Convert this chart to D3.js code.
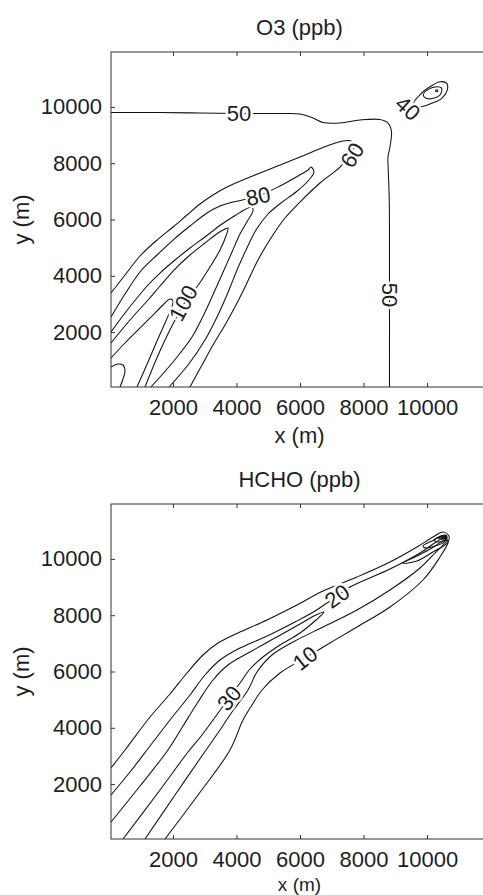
<!DOCTYPE html>
<html>
<head>
<meta charset="utf-8">
<script src="https://cdn.jsdelivr.net/npm/d3@7"></script>
<style>
  body { margin: 0; background: #fff; }
  svg text { font-family: "Liberation Sans", Arial, sans-serif; fill: #1e1e1e; }
</style>
</head>
<body>
<svg id="chart" width="483" height="895"></svg>
<script>
/* grid extent (cell centres, m) and axis ticks */
var gridExtent = [50, 11950];
var xTicks = [2000, 4000, 6000, 8000, 10000];
var yTicks = [2000, 4000, 6000, 8000, 10000];

/* O3 contour lines, [x, y] in metres */
var o3Level50 = [[50,9800],[1593,9800],[2852,9782],[4079,9765],[5370,9765],[6000,9747],[6409,9605],[6724,9445],
  [7259,9427],[7888,9534],[8518,9552],[8770,9427],[8880,9125],[8833,8586],[8770,8220],[8779,7758],[8811,6586],
  [8817,3744],[8817,50]];
var o3Level60 = [[50,3389],[491,4028],[963,4703],[1498,5271],[2002,5733],[2442,6159],[2852,6550],[3261,6870],
  [3702,7154],[4426,7509],[5213,7864],[6000,8220],[6850,8610],[7354,8788],[7605,8788],[7700,8646],[7574,8290],
  [7259,7864],[6629,7296],[6000,6621],[5528,6053],[5087,5342],[4678,4561],[4300,3673],[3985,2963],[3639,2252],
  [3261,1542],[2915,831],[2537,50]];
var o3Level80 = [[50,2536],[491,3353],[963,4135],[1498,4739],[2002,5271],[2537,5769],[3072,6230],[3481,6479],
  [3891,6621],[4678,6834],[5370,7190],[5937,7545],[6252,7758],[6346,7864],[6440,7687],[6252,7367],[5874,6976],
  [5402,6586],[4993,6195],[4615,5627],[4300,4916],[4016,4206],[3765,3495],[3418,2607],[3009,1719],[2474,831],
  [1876,50]];
var o3Level90 = [[50,2004],[491,2678],[868,3211],[1215,3673],[1593,4099],[2065,4561],[2537,4987],[3009,5378],
  [3544,5840],[3985,6159],[4300,6373],[4489,6444],[4520,6302],[4363,5982],[4111,5485],[3859,4845],[3607,4206],
  [3355,3567],[3041,2785],[2600,1826],[2002,938],[1309,50]];
var o3Level100 = [[50,1613],[648,2430],[1215,3140],[1593,3638],[2065,4241],[2537,4739],[3009,5165],[3418,5520],
  [3639,5662],[3733,5698],[3670,5414],[3481,4916],[3166,4312],[2820,3709],[2537,3282],[2317,2963],[2065,2430],
  [1781,1790],[1467,1009],[1120,50]];
var o3Level110 = [[50,1080],[491,1613],[963,2146],[1372,2607],[1687,2963],[1907,3176],[2002,3105],[1939,2821],
  [1750,2323],[1498,1684],[1215,938],[868,50]];
var o3Level120 = [[50,760],[270,867],[428,831],[491,618],[428,334],[333,50]];
var o3Level40 = [[9588,10173],[9714,10351],[9903,10564],[10092,10717],[10407,10894],[10618,10837],[10637,10599],
  [10460,10305],[10145,10127],[9831,10006],[9620,10031]];
var o3Level30 = [[9881,10422],[10039,10624],[10303,10717],[10460,10660],[10407,10422],[10196,10305],[9966,10305]];
var o3Level20 = [[10270,10560],[10320,10545],[10335,10590],[10285,10600]];

/* O3 inline labels: text, x, y (m), angle (deg) */
var o3Labels = [["50",4079,9765,0],["50",8817,3318,90],["40",9400,9960,42],["60",7637,8290,-58],
  ["80",4678,6834,-12],["100",2317,3034,-62]];

/* HCHO contour lines */
var hchoLevel10 = [[50,2572],[491,3211],[1278,4383],[1907,5200],[2442,5946],[2946,6586],[3418,7012],[4048,7367],
  [4961,7829],[5842,8326],[6724,8859],[7794,9356],[8833,9889],[9683,10422],[10186,10777],[10501,10955],
  [10690,10812],[10659,10564],[10407,10066],[9872,9250],[8833,8290],[7794,7580],[6944,7012],[6157,6479],
  [5370,5946],[4804,5342],[4489,4810],[4205,4277],[3796,3211],[2789,1613],[1750,50]];
var hchoLevel20 = [[50,1613],[648,2430],[1278,3353],[1907,4277],[2537,5165],[3009,5875],[3481,6408],[4111,6834],
  [4898,7225],[5842,7758],[6472,8149],[7165,8681],[7573,9001],[8833,9640],[9777,10209],[10281,10599],
  [10596,10777],[10627,10670],[10564,10564],[10281,10244],[9777,9676],[8833,8894],[7794,8184],[6724,7580],
  [5842,7083],[5118,6586],[4646,5982],[4363,5342],[3859,4561],[3481,3922],[3041,3211],[2065,1613],[1120,50]];
var hchoLevel30 = [[50,654],[963,1933],[1844,3211],[2317,4064],[2789,4916],[3261,5698],[3733,6230],[4426,6692],
  [5213,7190],[6000,7687],[6504,8006],[6755,8113],[6504,7829],[6000,7367],[5370,6941],[4835,6515],[4426,6088],
  [4111,5591],[3765,5058],[3355,4419],[2915,3744],[2474,3140],[1593,1790],[428,50]];
var hchoLevel30b = [[9242,9853],[9683,10102],[10155,10386],[10564,10670],[10659,10635],[10596,10528],
  [10186,10244],[9683,9924]];
var hchoLevel40 = [[9872,10457],[10155,10635],[10438,10777],[10596,10741],[10533,10599],[10250,10457],[9966,10386]];
var hchoLevel50 = [[10218,10670],[10470,10812],[10627,10777],[10564,10670],[10344,10599]];
var hchoLevel60 = [[10344,10741],[10533,10848],[10627,10812],[10501,10706]];
var hchoLevel70 = [[10438,10777],[10596,10830],[10596,10741],[10470,10724]];
var hchoLevel80 = [[10470,10790],[10564,10812],[10580,10760],[10500,10745]];

var hchoLabels = [["20",7165,8681,-35],["10",6157,6479,-38],["30",3765,5058,-52]];

var panels = [
  {
    id: "o3", title: "O3 (ppb)", top: 52,
    contours: [
      {level: 50, points: o3Level50}, {level: 60, points: o3Level60}, {level: 80, points: o3Level80},
      {level: 90, points: o3Level90}, {level: 100, points: o3Level100}, {level: 110, points: o3Level110},
      {level: 120, points: o3Level120},
      {level: 40, points: o3Level40, closed: true}, {level: 30, points: o3Level30, closed: true},
      {level: 20, points: o3Level20, closed: true}
    ],
    labels: o3Labels
  },
  {
    id: "hcho", title: "HCHO (ppb)", top: 504,
    contours: [
      {level: 10, points: hchoLevel10}, {level: 20, points: hchoLevel20}, {level: 30, points: hchoLevel30},
      {level: 30, points: hchoLevel30b, closed: true}, {level: 40, points: hchoLevel40, closed: true},
      {level: 50, points: hchoLevel50, closed: true}, {level: 60, points: hchoLevel60, closed: true},
      {level: 70, points: hchoLevel70, closed: true}, {level: 80, points: hchoLevel80, closed: true}
    ],
    labels: hchoLabels
  }
];

var plotLeft = 111;
var plotW = 378;
var plotH = 335;
var fontSize = 22;
var pageH = 895;

var svg = d3.select("#chart");
svg.append("rect").attr("width", 483).attr("height", pageH).attr("fill", "#fff");

function tidyAxis(g) {
  g.select(".domain").remove();
  g.selectAll(".tick line").attr("stroke", "#333");
  g.attr("font-family", null).attr("font-size", fontSize);
  g.selectAll(".tick text").attr("fill", "#1e1e1e");
}

function drawPanel(spec) {
  var x = d3.scaleLinear().domain(gridExtent).range([0, plotW]);
  var y = d3.scaleLinear().domain(gridExtent).range([plotH, 0]);

  var g = svg.append("g").attr("transform", "translate(" + plotLeft + "," + spec.top + ")");

  g.append("clipPath").attr("id", "clip-" + spec.id)
    .append("rect").attr("width", plotW).attr("height", plotH);

  var openLine = d3.line().x(function(d) { return x(d[0]); }).y(function(d) { return y(d[1]); })
    .curve(d3.curveCatmullRom.alpha(0.5));
  var closedLine = d3.line().x(function(d) { return x(d[0]); }).y(function(d) { return y(d[1]); })
    .curve(d3.curveCatmullRomClosed.alpha(0.5));

  var plot = g.append("g").attr("clip-path", "url(#clip-" + spec.id + ")");

  plot.selectAll("path.contour").data(spec.contours).enter().append("path")
    .attr("class", "contour")
    .attr("d", function(d) { return (d.closed ? closedLine : openLine)(d.points); })
    .attr("fill", "none")
    .attr("stroke", "#111")
    .attr("stroke-width", 1.05)
    .attr("stroke-linejoin", "round");

  // inline labels, white halo breaks the line underneath like clabel does
  plot.selectAll("text.clabel").data(spec.labels).enter().append("text")
    .attr("class", "clabel")
    .attr("transform", function(d) { return "translate(" + x(d[1]) + "," + y(d[2]) + ") rotate(" + d[3] + ")"; })
    .attr("text-anchor", "middle")
    .attr("dy", "0.36em")
    .attr("font-size", fontSize)
    .attr("stroke", "#fff")
    .attr("stroke-width", 5)
    .style("paint-order", "stroke")
    .text(function(d) { return d[0]; });

  // axes: ticks point inward on all four sides, labels left and bottom only
  g.append("g").attr("transform", "translate(0," + plotH + ")")
    .call(d3.axisBottom(x).tickValues(xTicks).tickSize(-4).tickPadding(12).tickFormat(d3.format("d")))
    .call(tidyAxis);
  g.append("g")
    .call(d3.axisLeft(y).tickValues(yTicks).tickSize(-4).tickPadding(9).tickFormat(d3.format("d")))
    .call(tidyAxis);
  g.append("g")
    .call(d3.axisTop(x).tickValues(xTicks).tickSize(-4).tickFormat(""))
    .call(tidyAxis);
  g.append("g").attr("transform", "translate(" + plotW + ",0)")
    .call(d3.axisRight(y).tickValues(yTicks).tickSize(-4).tickFormat(""))
    .call(tidyAxis);

  g.append("rect").attr("width", plotW).attr("height", plotH)
    .attr("fill", "none").attr("stroke", "#333").attr("stroke-width", 1);

  // x label 56px under the frame; the last one runs into the page edge,
  // so it is tucked up and set a little smaller there
  var room = pageH - spec.top;
  var fits = plotH + 56 + 5 <= room;
  var xLabelY = fits ? plotH + 56 : room - 4;
  var xLabelSize = fits ? fontSize : 19;

  g.append("text").attr("x", plotW / 2 - 0.5).attr("y", -17)
    .attr("text-anchor", "middle").attr("font-size", fontSize).text(spec.title);
  g.append("text").attr("x", plotW / 2 - 0.5).attr("y", xLabelY)
    .attr("text-anchor", "middle").attr("font-size", xLabelSize).text("x (m)");
  g.append("text")
    .attr("transform", "translate(" + (28.5 - plotLeft) + "," + (plotH / 2) + ") rotate(-90)")
    .attr("text-anchor", "middle").attr("font-size", fontSize).text("y (m)");
}

panels.forEach(drawPanel);
</script>
</body>
</html>
